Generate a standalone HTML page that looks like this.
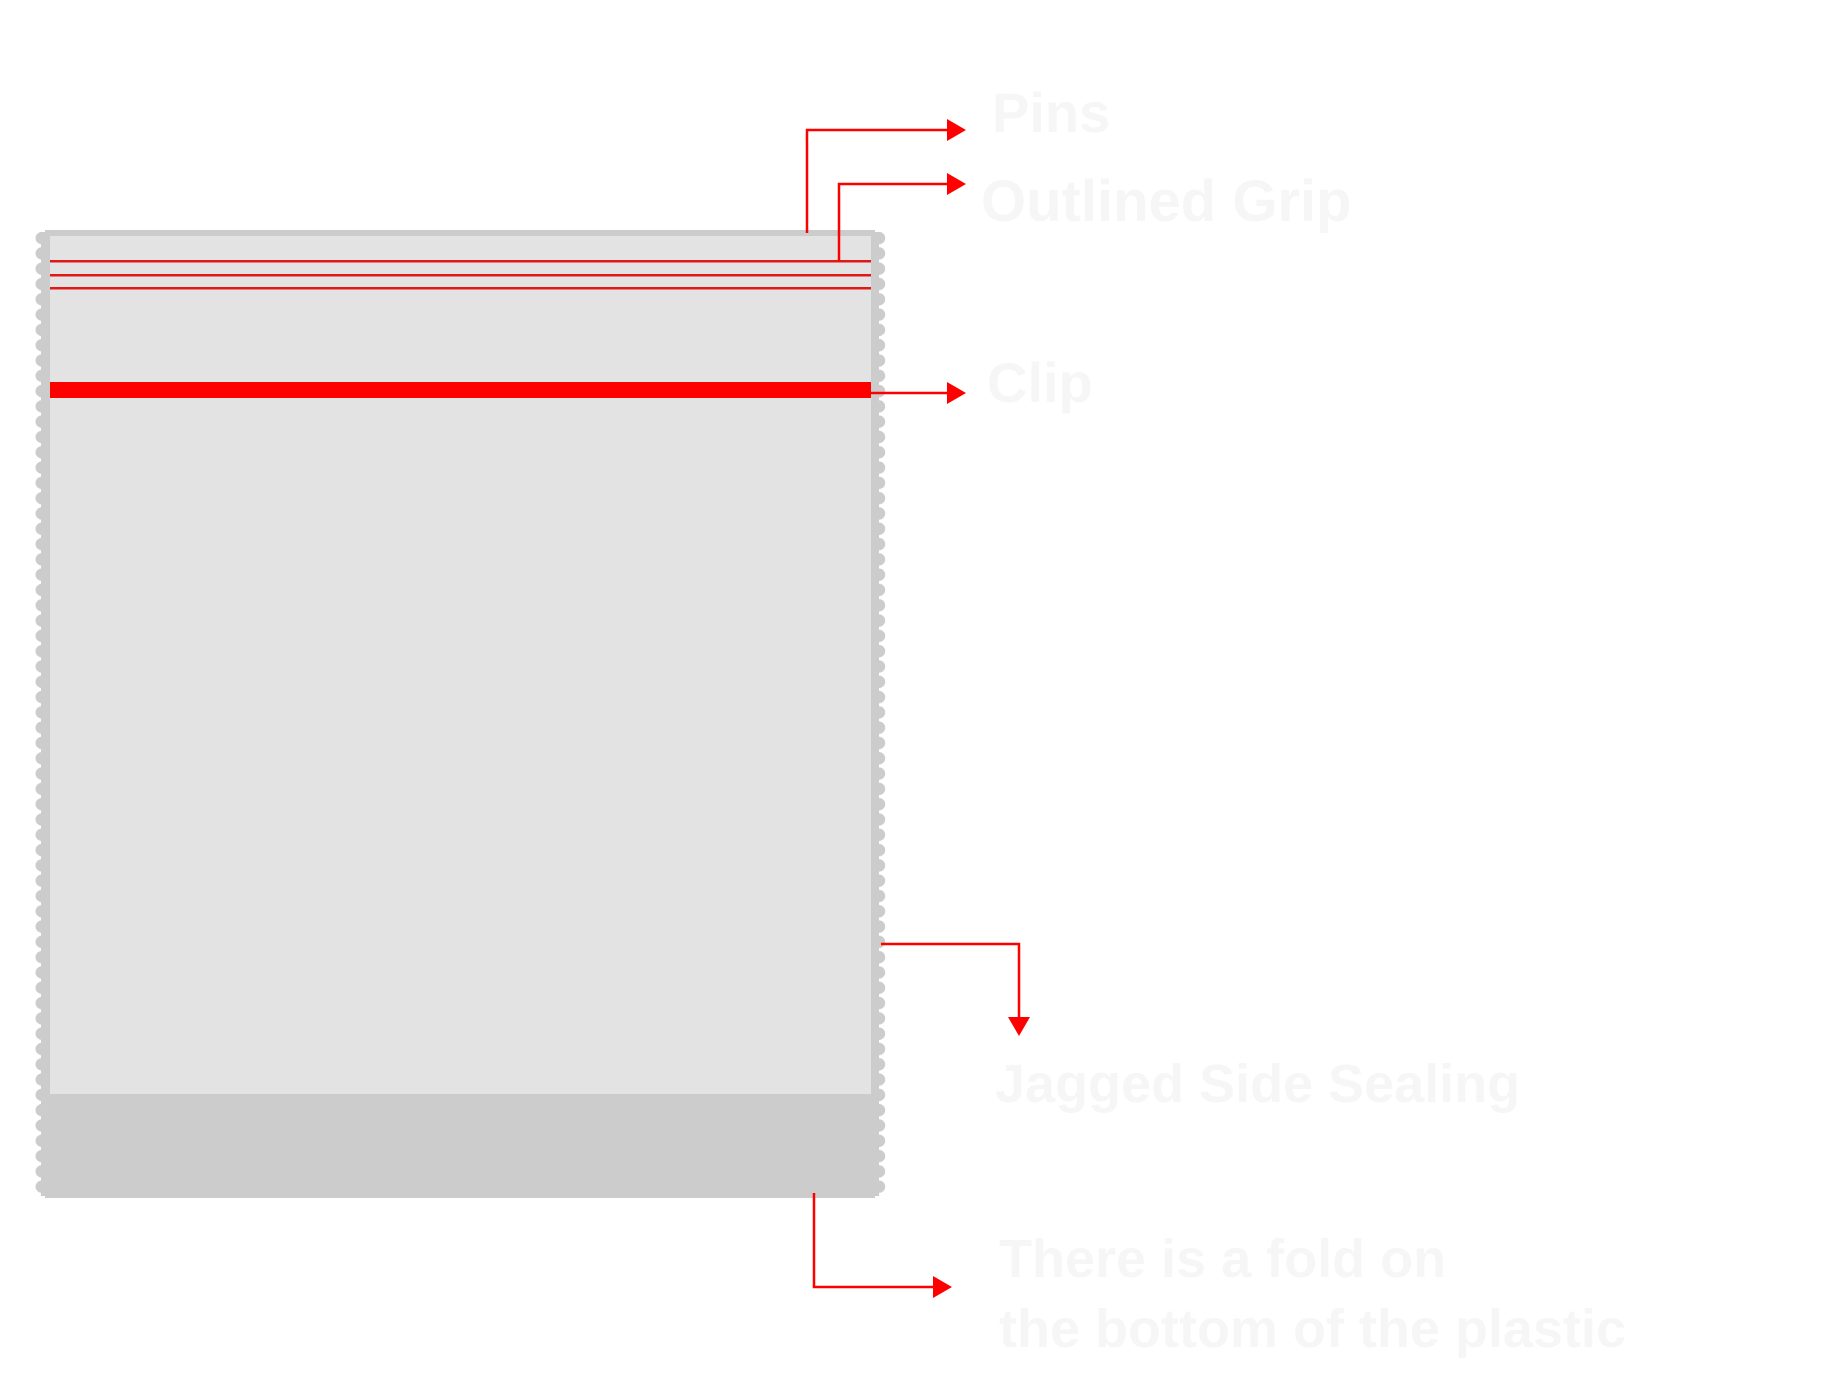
<!DOCTYPE html>
<html><head><meta charset="utf-8"><style>
html,body{margin:0;padding:0;background:#fff;}
svg{display:block;}
text{font-family:"Liberation Sans",sans-serif;font-weight:bold;fill:#f6f6f6;}
</style></head><body>
<svg width="1847" height="1397" viewBox="0 0 1847 1397" xmlns="http://www.w3.org/2000/svg">
<defs>
<pattern id="scL" x="35" y="230.5" width="16" height="15.3" patternUnits="userSpaceOnUse">
<rect x="6" y="0" width="10" height="15.3" fill="#cccccc"/>
<ellipse cx="7" cy="7.6" rx="6.5" ry="6.2" fill="#cccccc"/>
</pattern>
<pattern id="scR" x="866" y="230.5" width="20" height="15.3" patternUnits="userSpaceOnUse">
<rect x="0" y="0" width="13" height="15.3" fill="#cccccc"/>
<ellipse cx="13" cy="7.6" rx="6.2" ry="6.2" fill="#cccccc"/>
</pattern>
</defs>
<rect x="35" y="232" width="16" height="964" fill="url(#scL)"/>
<rect x="866" y="232" width="20" height="964" fill="url(#scR)"/>
<!-- bag body -->
<rect x="45" y="230" width="830" height="968" fill="#cccccc"/>
<rect x="50" y="236" width="821" height="858" fill="#e3e3e3"/>
<!-- grip lines -->
<rect x="50" y="260" width="821" height="2.5" fill="#e01818"/>
<rect x="50" y="274" width="821" height="2.5" fill="#e01818"/>
<rect x="50" y="287" width="821" height="2.5" fill="#e01818"/>
<rect x="50" y="382" width="821" height="16" fill="#ff0000"/>
<!-- connectors -->
<g stroke="#ff0000" stroke-width="2.5" fill="none">
<polyline points="807,233 807,130 950,130"/>
<polyline points="839,261 839,184 950,184"/>
<polyline points="871,393 950,393"/>
<polyline points="881,944 1019,944 1019,1020"/>
<polyline points="814,1193 814,1287 935,1287"/>
</g>
<g fill="#ff0000">
<polygon points="947,119 966,130 947,141"/>
<polygon points="947,173 966,184 947,195"/>
<polygon points="947,382 966,393 947,404"/>
<polygon points="1008,1017 1030,1017 1019,1036"/>
<polygon points="933,1276 952,1287 933,1298"/>
</g>
<!-- labels -->
<text x="992" y="132" font-size="56">Pins</text>
<text x="981" y="221" font-size="58">Outlined Grip</text>
<text x="987" y="402" font-size="56">Clip</text>
<text x="995" y="1102" font-size="54">Jagged Side Sealing</text>
<text x="999" y="1277" font-size="54">There is a fold on</text>
<text x="999" y="1347" font-size="54">the bottom of the plastic</text>
</svg>
</body></html>
